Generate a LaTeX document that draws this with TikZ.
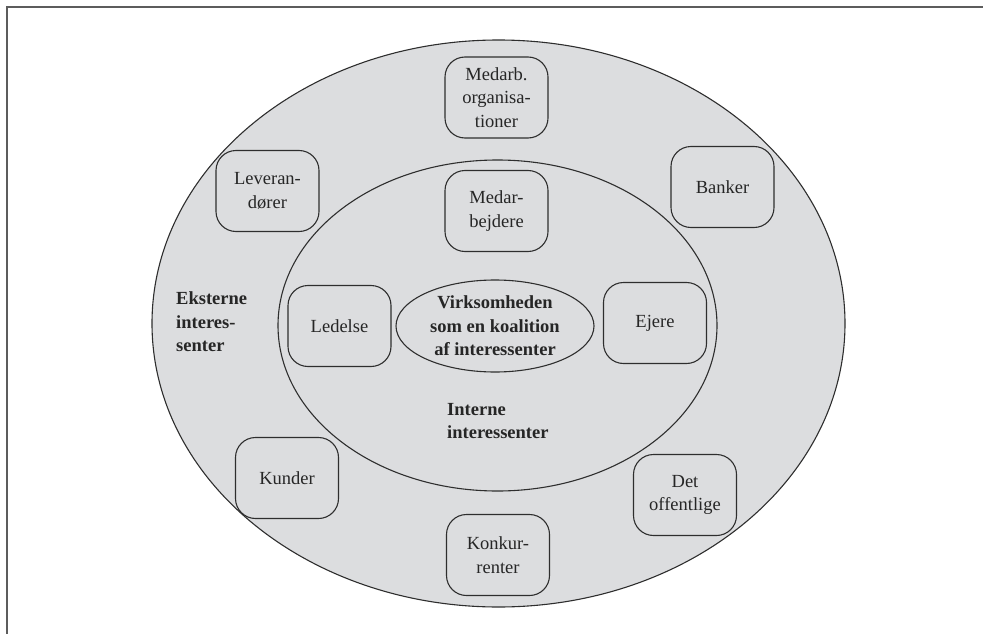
\documentclass[tikz,border=0pt]{standalone}
\usepackage{fontspec}
\setmainfont{Liberation Serif}
\usetikzlibrary{shapes.geometric}
\definecolor{fillgray}{HTML}{DCDDDF}
\definecolor{linegray}{HTML}{2E2E2E}
\definecolor{framegray}{HTML}{5C5C5C}
\tikzset{
  ring/.style={ellipse, draw=linegray, fill=fillgray, line width=1.1pt, inner sep=0pt},
  party/.style={rectangle, rounded corners=20pt, draw=linegray, fill=fillgray, line width=1.1pt,
     minimum width=103pt, minimum height=81pt, align=center, inner sep=2pt,
     font=\fontsize{18.5}{23.5}\selectfont, text=black!85},
  label/.style={align=left, font=\bfseries\fontsize{18.5}{23.5}\selectfont, text=black!85, inner sep=0pt}
}
\begin{document}
\begin{tikzpicture}[x=1pt,y=-1pt]
\useasboundingbox (0,0) rectangle (983,634);
% frame (only top and left edges fall inside the picture)
\coordinate (fbl) at (7,640);
\coordinate (ftl) at (7,7);
\coordinate (ftr) at (990,7);
\draw[framegray, line width=2pt] (fbl) -- (ftl) -- (ftr);
% rings
\node[ring, minimum width=693pt, minimum height=567pt] (outer) at (498.5,323.5) {};
\node[ring, minimum width=439pt, minimum height=331pt] (inner) at (497.5,325.5) {};
\node[ring, minimum width=198pt, minimum height=92pt, align=center,
  font=\bfseries\fontsize{18.5}{23.5}\selectfont, text=black!85] (core) at (495,326)
  {Virksomheden\\som en koalition\\af interessenter};
% parties
\node[party] (medorg) at (496.5,97.5) {Medarb.\\organisa-\\tioner};
\node[party] (medarb) at (496.5,211) {Medar-\\bejdere};
\node[party] (lev) at (267.5,191) {Leveran-\\dører};
\node[party] (bank) at (722.5,187) {Banker};
\node[party] (led) at (339.5,326) {Ledelse};
\node[party] (ejere) at (655,323) {Ejere};
\node[party] (kunder) at (287,478) {Kunder};
\node[party] (konk) at (498,555) {Konkur-\\renter};
\node[party] (off) at (685,495) {Det\\offentlige};
% labels
\node[label, anchor=west] (ext) at (176,322) {Eksterne\\interes-\\senter};
\node[label, anchor=north west] (int) at (447,403) {Interne\\interessenter};
\end{tikzpicture}
\end{document}
